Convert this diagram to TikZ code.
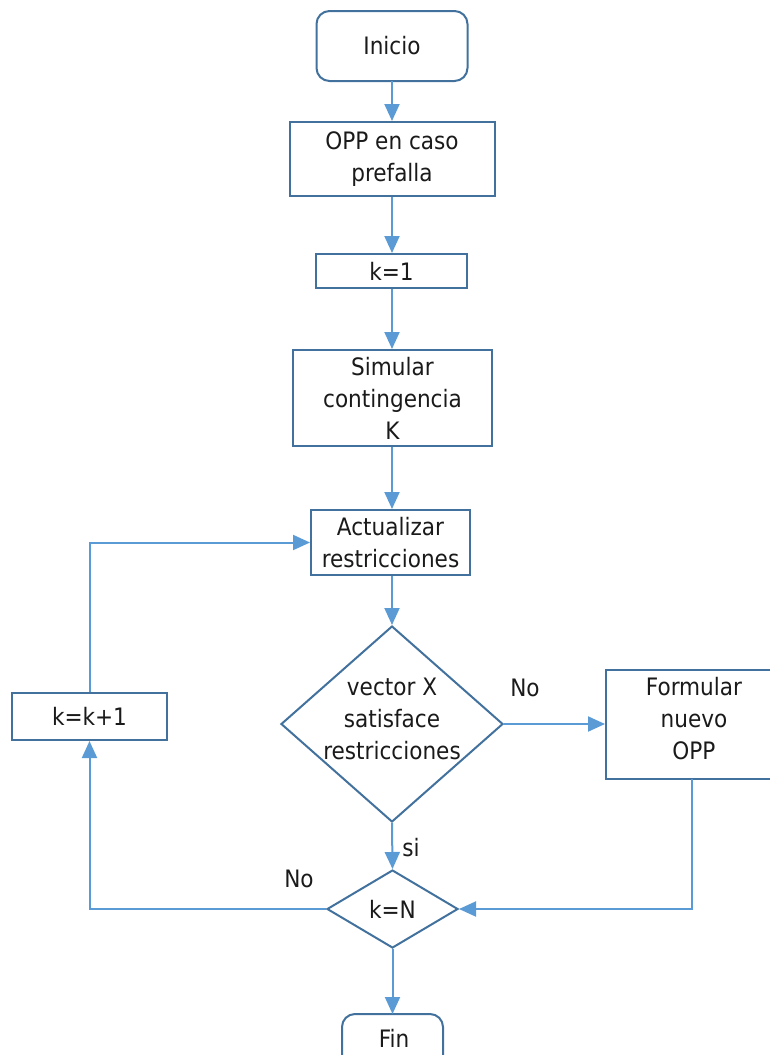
\documentclass[tikz,border=0pt]{standalone}
\usepackage{fontspec}
\setmainfont{DejaVu Sans Condensed}
\usetikzlibrary{arrows.meta,shapes.geometric}
\definecolor{linec}{HTML}{5B9BD5}
\definecolor{boxc}{HTML}{41719C}
\definecolor{txtc}{HTML}{1A1A1A}
\begin{document}
\begin{tikzpicture}[x=1pt,y=-1pt,
  every node/.style={font=\fontsize{24}{32}\selectfont,text=txtc,align=center},
  box/.style={draw=boxc,line width=2pt,rectangle,inner sep=0pt},
  term/.style={draw=boxc,line width=2pt,rectangle,rounded corners=13pt,inner sep=0pt},
  dec/.style={draw=boxc,line width=2pt,diamond,inner sep=0pt},
  flow/.style={draw=linec,line width=2pt,-{Triangle[length=17pt,width=15pt]}},
  lbl/.style={inner sep=0pt}]
\useasboundingbox (0,0) rectangle (769,1055);
\node[term,minimum width=151pt,minimum height=70pt] (inicio) at (392,46) {Inicio};
\node[box,minimum width=205pt,minimum height=74pt] (opp) at (392,159) {OPP en caso\\prefalla};
\node[box,minimum width=151pt,minimum height=34pt] (k1) at (391.5,271) {k=1};
\node[box,minimum width=199pt,minimum height=96pt] (sim) at (392.5,398) {Simular\\contingencia\\K};
\node[box,minimum width=159pt,minimum height=65pt] (act) at (390.5,542.5) {Actualizar\\restricciones};
\node[dec,minimum width=222pt,minimum height=196pt] (vx) at (392,724) {};
\node[lbl] at (392,719) {vector X\\satisface\\restricciones};
\node[box,minimum width=170pt,minimum height=109pt] (form) at (691,724.5) {};
\node[lbl] at (694,719) {Formular\\nuevo\\OPP};
\node[box,minimum width=155pt,minimum height=47pt] (kk) at (89.5,716.5) {k=k+1};
\node[dec,minimum width=131pt,minimum height=78pt] (kn) at (392.5,909) {k=N};
\node[term,minimum width=101pt,minimum height=70pt] (fin) at (392.5,1049) {};
\node[lbl] at (394,1038) {Fin};
\node[lbl] (no1) at (525,688) {No};
\node[lbl] (si) at (411,848) {si};
\node[lbl] (no2) at (299,879) {No};
\coordinate (formb) at (692,779);
\coordinate (finT) at (392.5,1014);
\draw[flow] (392,81) -- (opp.north -| 392,0);
\draw[flow] (opp.south -| 392,0) -- (k1.north -| 392,0);
\draw[flow] (k1.south -| 392,0) -- (sim.north -| 392,0);
\draw[flow] (sim.south -| 392,0) -- (act.north -| 392,0);
\draw[flow] (act.south -| 392,0) -- (vx.north);
\draw[flow] (vx.east) -- (vx.east -| form.west);
\draw[flow] (vx.south) -- (kn.north);
\draw[flow] (formb) |- (kn.east);
\draw[flow] (kn.west) -| (kk.south);
\draw[flow] (kk.north) |- (act.west);
\draw[flow] (kn.south) -- (finT);
\end{tikzpicture}
\end{document}
